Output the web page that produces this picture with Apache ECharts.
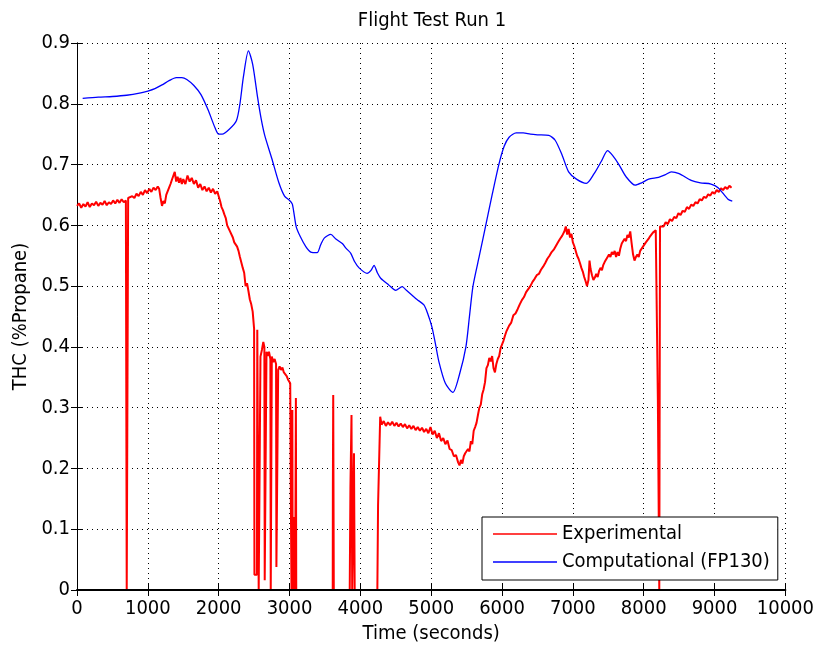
<!DOCTYPE html>
<html>
<head>
<meta charset="utf-8">
<script src="https://cdn.jsdelivr.net/npm/echarts@6/dist/echarts.min.js"></script>
<style>html,body{margin:0;padding:0;background:#fff}#chart{width:817px;height:656px}</style>
</head>
<body>
<div id="chart"></div>
<script>
const titleText = 'Flight Test Run 1';
const xAxisName = 'Time (seconds)';
const yAxisName = 'THC (%Propane)';
const seriesNames = ['Experimental', 'Computational (FP130)'];

const expTime = [
  0,30,60,90,120,150,180,210,240,270,300,330,360,390,420,450,480,510,540,570,600,630,660,690,
  698,702,718,722,
  750,780,810,840,870,900,930,960,990,1020,1050,1080,1110,1140,1160,1180,1200,1220,1240,1260,1280,1300,
  1320,1340,1360,1380,1400,1420,1440,1460,1480,1500,1530,1560,1590,1620,1650,1680,1710,1740,1770,1800,
  1830,1860,1890,1920,1950,1980,2000,2020,2040,2060,2080,2100,2120,2140,2160,2180,2200,2220,2240,2260,
  2280,2300,2320,2340,2360,2380,2400,2420,2440,2460,2480,2500,
  2505,2540,2545,2560,2565,2585,2590,2610,2630,2645,2650,2670,2675,2690,2710,2730,2735,2745,2750,2770,
  2790,2810,2815,2835,2840,2860,2880,2900,2920,2940,2960,2980,3000,3010,3020,3028,3035,3040,3045,3055,
  3060,3070,3080,3090,3095,3100,3610,3612,3617,3625,3850,3860,3875,3885,3900,3910,3920,4240,4250,4270,4280,
  4300,4330,4360,4390,4420,4450,4480,4510,4540,4570,4600,4630,4660,4690,4720,4750,4780,4810,4840,4870,
  4900,4930,4960,4990,5020,5050,5080,5110,5140,5170,5200,5230,5260,5290,5320,5350,5380,5400,5420,5440,
  5460,5480,5500,5520,5540,5560,5580,5600,5620,5640,5660,5680,5700,5720,5740,5760,5780,5800,5820,5840,
  5860,5880,5900,5920,5940,5960,5980,6000,6020,6040,6060,6080,6100,6130,6160,6190,6220,6250,6280,6310,
  6340,6370,6400,6430,6460,6490,6520,6550,6580,6610,6640,6670,6700,6730,6760,6790,6820,6850,6880,6900,
  6920,6940,6960,6980,7000,7020,7040,7060,7080,7100,7120,7140,7160,7180,7200,7220,7235,7250,7270,7290,
  7310,7330,7350,7370,7390,7410,7430,7450,7470,7490,7510,7530,7550,7570,7590,7610,7630,7650,7670,7690,
  7710,7730,7750,7770,7790,7810,7830,7850,7870,7890,7910,7930,7950,7970,7990,8010,8030,8050,8070,8090,
  8110,8130,8150,8170,8195,8200,8215,8220,8225,8230,
  8250,8280,8310,8340,8370,8400,8430,8460,8490,8520,8550,8580,8610,8640,8670,8700,8730,8760,8790,8820,
  8850,8880,8910,8940,8970,9000,9030,9060,9090,9120,9150,9180,9210,9240
];
const expValue = [
  0.632,0.636,0.629,0.635,0.631,0.638,0.630,0.636,0.633,0.639,0.632,0.637,0.634,0.640,0.633,0.638,0.635,0.641,0.636,0.642,0.637,0.643,0.638,0.641,
  0.640,0.000,0.000,0.645,
  0.642,0.648,0.645,0.652,0.648,0.655,0.650,0.658,0.653,0.660,0.655,0.662,0.658,0.664,0.660,0.645,0.632,0.640,0.636,0.650,0.648,0.662,
  0.668,0.675,0.672,0.688,0.672,0.680,0.670,0.678,0.668,0.676,0.668,0.682,0.672,0.678,0.668,0.674,0.662,0.668,0.658,0.664,
  0.656,0.662,0.654,0.660,0.652,0.656,0.648,0.640,0.630,0.625,0.618,0.612,0.600,0.602,0.590,0.588,0.580,0.572,0.575,0.565,
  0.558,0.548,0.545,0.530,0.522,0.500,0.505,0.492,0.478,0.470,0.458,0.430,
  0.025,0.025,0.428,0.425,0.000,0.000,0.384,0.395,0.408,0.400,0.016,0.016,0.392,0.385,0.392,0.380,0.000,0.000,0.384,0.375,
  0.380,0.372,0.038,0.038,0.362,0.368,0.362,0.366,0.358,0.355,0.352,0.346,0.344,0.340,0.130,0.000,0.000,0.296,0.000,0.050,
  0.000,0.120,0.000,0.316,0.000,0.000,0.000,0.170,0.321,0.000,0.000,0.170,0.288,0.000,0.000,0.225,0.000,0.000,0.140,0.140,0.285,
  0.272,0.278,0.270,0.276,0.271,0.277,0.270,0.275,0.269,0.274,0.268,0.273,0.266,0.271,0.265,0.270,0.263,0.268,0.262,0.267,
  0.260,0.265,0.258,0.268,0.256,0.262,0.250,0.258,0.245,0.250,0.240,0.246,0.232,0.230,0.220,0.222,0.210,0.205,0.214,0.208,
  0.220,0.225,0.222,0.232,0.228,0.245,0.240,0.262,0.268,0.275,0.288,0.300,0.305,0.322,0.330,0.342,0.365,0.370,0.382,0.376,
  0.385,0.365,0.358,0.372,0.380,0.385,0.398,0.395,0.410,0.418,0.425,0.430,0.435,0.440,0.452,0.455,0.462,0.470,0.477,0.482,
  0.490,0.495,0.500,0.507,0.512,0.518,0.520,0.527,0.532,0.538,0.545,0.550,0.556,0.560,0.566,0.572,0.578,0.583,0.590,0.598,
  0.585,0.594,0.580,0.586,0.572,0.566,0.568,0.550,0.545,0.538,0.530,0.524,0.515,0.508,0.500,0.510,0.542,0.528,0.518,0.510,
  0.514,0.520,0.515,0.525,0.530,0.526,0.535,0.540,0.538,0.548,0.552,0.548,0.556,0.552,0.558,0.548,0.556,0.550,0.562,0.570,
  0.568,0.578,0.574,0.584,0.580,0.590,0.570,0.552,0.542,0.548,0.552,0.548,0.558,0.560,0.565,0.568,0.572,0.570,0.578,0.582,
  0.580,0.588,0.590,0.592,0.595,0.312,0.312,0.000,0.000,0.598,
  0.600,0.598,0.605,0.602,0.610,0.607,0.614,0.612,0.620,0.617,0.624,0.622,0.630,0.627,0.634,0.632,0.638,0.636,0.643,0.641,
  0.647,0.645,0.651,0.649,0.655,0.652,0.658,0.655,0.661,0.658,0.663,0.660,0.665,0.662
];

const compTime = [
  80,300,500,700,900,1000,1100,1200,1300,1400,1480,1550,1650,1750,1850,1950,2000,2050,2150,2250,
  2300,2350,2420,2480,2550,2600,2650,2750,2850,2930,3000,3040,3094,3150,3230,3300,3390,3440,3490,3583,
  3650,3745,3800,3865,3920,3982,4095,4150,4193,4240,4287,4400,4499,4590,4650,4730,4800,4897,4950,5010,
  5060,5108,5200,5306,5400,5490,5540,5590,5680,5770,5860,5955,6030,6100,6200,6300,6400,6500,
  6660,6750,6850,6940,7050,7190,7300,7400,7490,7560,7650,7750,7880,7970,8070,8210,8300,8390,8500,8670,
  8800,8950,9050,9190,9250
];
const compValue = [
  0.809,0.811,0.812,0.814,0.818,0.821,0.825,0.831,0.838,0.843,0.843,0.840,0.830,0.815,0.790,0.760,0.750,0.750,0.758,0.772,
  0.800,0.845,0.887,0.865,0.810,0.775,0.748,0.710,0.670,0.648,0.641,0.635,0.598,0.582,0.565,0.556,0.555,0.568,0.579,0.585,
  0.578,0.570,0.562,0.554,0.540,0.530,0.521,0.526,0.534,0.522,0.513,0.502,0.493,0.499,0.493,0.485,0.478,0.469,0.455,0.433,
  0.405,0.376,0.340,0.325,0.355,0.400,0.450,0.500,0.550,0.600,0.650,0.700,0.730,0.745,0.752,0.752,0.750,0.749,
  0.748,0.740,0.715,0.688,0.676,0.669,0.685,0.705,0.723,0.715,0.700,0.680,0.666,0.670,0.676,0.679,0.683,0.688,0.685,0.674,
  0.670,0.668,0.662,0.643,0.640
];

const FONT = "'DejaVu Sans Condensed', 'Liberation Sans Narrow', sans-serif";
const FS = 20;
const zip = (a, b) => a.map((t, i) => [t, b[i]]);

const tickStyle = { show: true, inside: true, length: 6, lineStyle: { color: '#000', width: 1 } };
const axisLineStyle = { show: true, lineStyle: { color: '#000', width: 1 } };
const gridLine = { show: true, lineStyle: { color: '#000', width: 1, type: [1, 4] } };
const lbl = { color: '#000', fontFamily: FONT, fontSize: FS, margin: 9, formatter: v => String(+v.toFixed(1)) };
const lblY = { color: '#000', fontFamily: FONT, fontSize: FS, margin: 7, formatter: v => String(+v.toFixed(1)) };

const chart = echarts.init(document.getElementById('chart'), null, { renderer: 'canvas' });
chart.setOption({
  backgroundColor: '#fff',
  animation: false,
  title: {
    text: titleText, left: 432, top: 11, textAlign: 'center', padding: 0,
    textStyle: { color: '#000', fontFamily: FONT, fontSize: FS, fontWeight: 'normal' }
  },
  grid: { left: 77, right: 30, top: 43, bottom: 66, containLabel: false },
  legend: {
    orient: 'vertical', left: 482, top: 517,
    data: seriesNames,
    icon: 'rect',
    backgroundColor: '#fff', borderColor: '#000', borderWidth: 1,
    padding: [7, 8, 8, 11], itemGap: 8, itemWidth: 64, itemHeight: 1.5,
    textStyle: { color: '#000', fontFamily: FONT, fontSize: FS }
  },
  xAxis: [
    {
      type: 'value', position: 'bottom', min: 0, max: 10000, interval: 1000, z: 5,
      name: xAxisName, nameLocation: 'middle', nameGap: 33,
      nameTextStyle: { color: '#000', fontFamily: FONT, fontSize: FS },
      axisLine: { show: true, lineStyle: { color: '#000', width: 2 } },
      axisTick: tickStyle, axisLabel: lbl, splitLine: { show: false }
    },
    {
      type: 'value', position: 'top', min: 0, max: 10000, interval: 1000,
      axisLine: axisLineStyle, axisTick: tickStyle, axisLabel: { show: false }, splitLine: gridLine
    }
  ],
  yAxis: [
    {
      type: 'value', position: 'left', min: 0, max: 0.9, interval: 0.1,
      name: yAxisName, nameLocation: 'middle', nameGap: 46,
      nameTextStyle: { color: '#000', fontFamily: FONT, fontSize: FS },
      axisLine: axisLineStyle, axisTick: tickStyle, axisLabel: lblY, splitLine: { show: false }
    },
    {
      type: 'value', position: 'right', min: 0, max: 0.9, interval: 0.1,
      axisLine: axisLineStyle, axisTick: tickStyle, axisLabel: { show: false }, splitLine: gridLine
    }
  ],
  series: [
    {
      name: seriesNames[0], type: 'line', data: zip(expTime, expValue),
      symbol: 'none', lineStyle: { color: '#ff0000', width: 2 }, itemStyle: { color: '#ff0000' }
    },
    {
      name: seriesNames[1], type: 'line', data: zip(compTime, compValue), smooth: 0.25,
      symbol: 'none', lineStyle: { color: '#0000ff', width: 1.3 }, itemStyle: { color: '#0000ff' }
    }
  ]
});
</script>
</body>
</html>
